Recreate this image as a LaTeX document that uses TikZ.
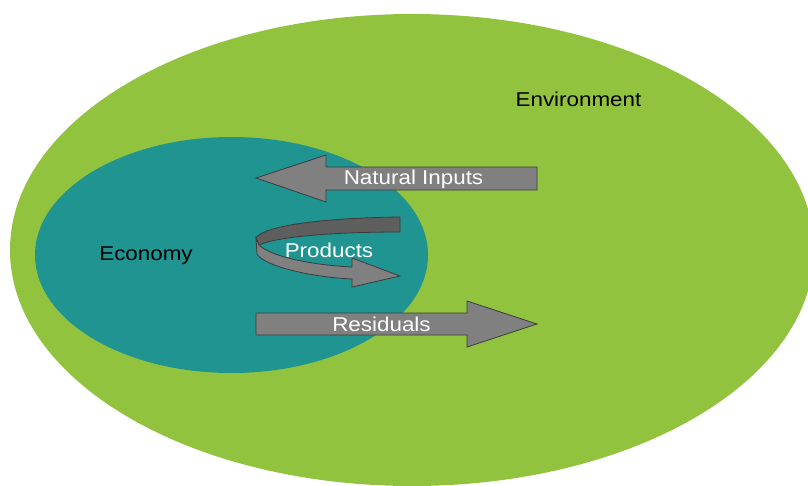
\documentclass[tikz,border=0pt]{standalone}
\usepackage{fontspec}
\setmainfont{Liberation Sans}[FakeStretch=1.12]
\definecolor{envgreen}{HTML}{92C33F}
\definecolor{ecoteal}{HTML}{209491}
\definecolor{arrowgray}{HTML}{808080}
\definecolor{backgray}{HTML}{5E5E5E}
\definecolor{edgegray}{HTML}{3C3C3C}
\tikzset{
  blockarrow/.style={fill=arrowgray, draw=edgegray, line width=0.8pt, line join=miter},
  backband/.style={fill=backgray, draw=edgegray, line width=0.8pt},
  darklabel/.style={text=black, font=\fontsize{20}{22}\selectfont, inner sep=0pt},
  whitelabel/.style={text=white, font=\fontsize{20}{22}\selectfont, inner sep=0pt}
}
\begin{document}
\begin{tikzpicture}[x=1pt,y=-1pt]
\useasboundingbox (0,0) rectangle (808,485);
\clip (0,0) rectangle (808,485);
\fill[white] (0,0) rectangle (808,485);
% environment and economy
\fill[envgreen] (412,250) ellipse [x radius=402, y radius=236];
\fill[ecoteal] (231.5,255) ellipse [x radius=196.5, y radius=118];
% natural inputs arrow
\path[blockarrow] (256,178) -- (326,155) -- (326,167) -- (537,167) -- (537,190) -- (326,190) -- (326,202) -- cycle;
% residuals arrow
\path[blockarrow] (256,313) -- (467,313) -- (467,301) -- (537,324) -- (467,347) -- (467,335) -- (256,335) -- cycle;
% products circular arrow: back band
\path[backband] (400,217) .. controls (320,218) and (263,226) .. (256,238)
  -- (259,245) .. controls (276,237) and (330,232) .. (400,232) -- cycle;
% front band with head
\path[blockarrow] (256,238) -- (257,254)
  .. controls (264,266) and (310,277) .. (352,279)
  -- (352,287) -- (400,276) -- (352,258) -- (352,267)
  .. controls (310,265) and (270,256) .. (259,245) -- cycle;
% labels
\node[darklabel] (env) at (578.5,99) {Environment};
\node[darklabel] (eco) at (146,256) {Economy};
\node[whitelabel] (natin) at (413.5,179) {Natural Inputs};
\node[whitelabel] (prod) at (329,250) {Products};
\node[whitelabel] (resid) at (381.5,324) {Residuals};
\end{tikzpicture}
\end{document}
